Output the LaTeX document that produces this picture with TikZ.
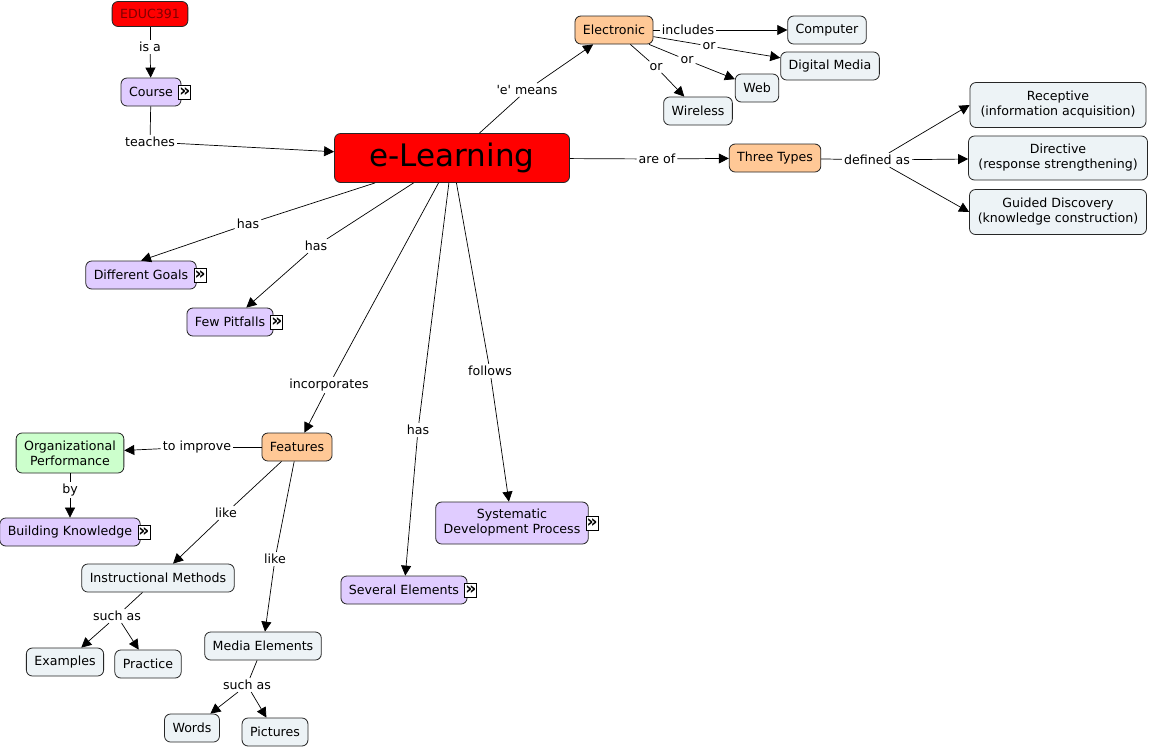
\documentclass[tikz,border=0pt]{standalone}
\usepackage{fontspec}
\setmainfont{DejaVu Sans}[Ligatures=TeXOff]
\usetikzlibrary{positioning, arrows.meta}
\definecolor{lilac}{RGB}{224,204,255}
\definecolor{peach}{RGB}{255,200,150}
\definecolor{mist}{RGB}{237,243,246}
\definecolor{mint}{RGB}{204,255,204}
\tikzset{
  concept/.style={rectangle, rounded corners=6pt, draw=black!85, line width=0.8pt, minimum height=28pt, inner xsep=8pt, inner ysep=3pt, align=center},
  topic/.style={concept, fill=red},
  lilacbox/.style={concept, fill=lilac},
  peachbox/.style={concept, fill=peach},
  mistbox/.style={concept, fill=mist},
  mintbox/.style={concept, fill=mint},
  linkword/.style={fill=white, inner sep=2pt},
  res/.style={draw=black, fill=white, line width=0.7pt, inner sep=0pt, minimum width=12pt, minimum height=14pt, font=\fontsize{17}{17}\selectfont\bfseries},
  line/.style={line width=0.7pt},
  arrow/.style={line width=0.7pt, -{Triangle[length=10pt,width=10pt]}}
}
\begin{document}
\begin{tikzpicture}[x=1pt, y=-1pt, every node/.style={font=\fontsize{12.6}{15}\selectfont}]
\useasboundingbox[fill=white] (0,0) rectangle (1150,748);

% Konzepte
\node (educ1) [topic, minimum height=25pt, text=red!50!black] at (150,14) {EDUC391};
\node (course1) [lilacbox] at (151,92) {Course};
\node (elearn1) [topic, minimum width=235pt, minimum height=49pt, font=\fontsize{31}{36}\selectfont] at (452,158) {e-Learning};
\node (elec1) [peachbox] at (614,30) {Electronic};
\node (comp1) [mistbox] at (827,30) {Computer};
\node (dmedia1) [mistbox] at (830,66) {Digital Media};
\node (web1) [mistbox] at (757,88) {Web};
\node (wless1) [mistbox] at (698,111) {Wireless};
\node (types1) [peachbox] at (775,158) {Three Types};
\node (recep1) [mistbox, minimum width=176pt, minimum height=45pt] at (1058,105) {Receptive\\(information acquisition)};
\node (direc1) [mistbox, minimum width=179pt, minimum height=44pt] at (1058,158) {Directive\\(response strengthening)};
\node (guided1) [mistbox, minimum width=177pt, minimum height=45pt] at (1058,212) {Guided Discovery\\(knowledge construction)};
\node (goals1) [lilacbox] at (141,275) {Different Goals};
\node (pitfalls1) [lilacbox] at (230,322) {Few Pitfalls};
\node (feat1) [peachbox] at (297,447) {Features};
\node (orgperf1) [mintbox, minimum height=40pt] at (70,453) {Organizational\\Performance};
\node (build1) [lilacbox] at (70,532) {Building Knowledge};
\node (instr1) [mistbox] at (158,578) {Instructional Methods};
\node (media1) [mistbox] at (263,646) {Media Elements};
\node (examp1) [mistbox] at (65,662) {Examples};
\node (pract1) [mistbox] at (148,664) {Practice};
\node (words1) [mistbox] at (192,728) {Words};
\node (pict1) [mistbox] at (275,732) {Pictures};
\node (elems1) [lilacbox] at (404,590) {Several Elements};
\node (sdp1) [lilacbox, minimum height=42pt] at (512,523) {Systematic\\Development Process};

% Ressourcen-Symbole
\node (courseres) [res, right=-3pt of course1] {»};
\node (goalsres) [res, right=-3pt of goals1] {»};
\node (pitfallsres) [res, right=-3pt of pitfalls1] {»};
\node (buildres) [res, right=-3pt of build1] {»};
\node (elemsres) [res, right=-3pt of elems1] {»};
\node (sdpres) [res, right=-3pt of sdp1] {»};

% Verbindungswoerter
\node (isa1) [linkword] at (150,47) {is a};
\node (teaches1) [linkword] at (150,142) {teaches};
\node (emeans1) [linkword] at (527,90) {'e' means};
\node (incl1) [linkword] at (688,30) {includes};
\node (or1) [linkword] at (709,46) {or};
\node (or2) [linkword] at (687,60) {or};
\node (or3) [linkword] at (656,67) {or};
\node (areof1) [linkword] at (657,159) {are of};
\node (defas1) [linkword] at (877,160) {defined as};
\node (has1) [linkword] at (248,224) {has};
\node (has2) [linkword] at (316,246) {has};
\node (incorp1) [linkword] at (329,385) {incorporates};
\node (has3) [linkword] at (418,430) {has};
\node (follows1) [linkword] at (490,371) {follows};
\node (improve1) [linkword] at (197,447) {to improve};
\node (by1) [linkword] at (70,490) {by};
\node (like1) [linkword] at (226,513) {like};
\node (like2) [linkword] at (275,559) {like};
\node (such1) [linkword] at (117,616) {such as};
\node (such2) [linkword] at (247,685) {such as};

% Verbindungen
\draw [line] (educ1) -- (isa1);
\draw [arrow] (isa1) -- (course1);
\draw [line] (course1) -- (teaches1);
\draw [arrow] (teaches1) -- (elearn1);

\draw [line] (elearn1) -- (emeans1);
\draw [arrow] (emeans1) -- (elec1);
\draw [line] (elec1) -- (incl1);
\draw [arrow] (incl1) -- (comp1);
\draw [line] (elec1) -- (or1);
\draw [arrow] (or1) -- (dmedia1);
\draw [line] (elec1) -- (or2);
\draw [arrow] (or2) -- (web1);
\draw [line] (elec1) -- (or3);
\draw [arrow] (or3) -- (wless1);

\draw [line] (elearn1) -- (areof1);
\draw [arrow] (areof1) -- (types1);
\draw [line] (types1) -- (defas1);
\draw [arrow] (defas1) -- (recep1.west);
\draw [arrow] (defas1) -- (direc1);
\draw [arrow] (defas1) -- (guided1.west);

\draw [line] (elearn1) -- (has1);
\draw [arrow] (has1) -- (goals1.north);
\draw [line] (elearn1) -- (has2);
\draw [arrow] (has2) -- (pitfalls1);
\draw [line] (elearn1) -- (incorp1);
\draw [arrow] (incorp1) -- (feat1);
\draw [line] (elearn1) -- (has3);
\draw [arrow] (has3) -- (elems1);
\draw [line] (elearn1) -- (follows1);
\draw [arrow] (follows1) -- (sdp1);

\draw [line] (feat1) -- (improve1);
\draw [arrow] (improve1) -- (orgperf1);
\draw [line] (orgperf1) -- (by1);
\draw [arrow] (by1) -- (build1);
\draw [line] (feat1) -- (like1);
\draw [arrow] (like1) -- (instr1);
\draw [line] (feat1) -- (like2);
\draw [arrow] (like2) -- (media1);

\draw [line] (instr1) -- (such1);
\draw [arrow] (such1) -- (examp1);
\draw [arrow] (such1) -- (pract1);
\draw [line] (media1) -- (such2);
\draw [arrow] (such2) -- (words1);
\draw [arrow] (such2) -- (pict1);
\end{tikzpicture}
\end{document}
